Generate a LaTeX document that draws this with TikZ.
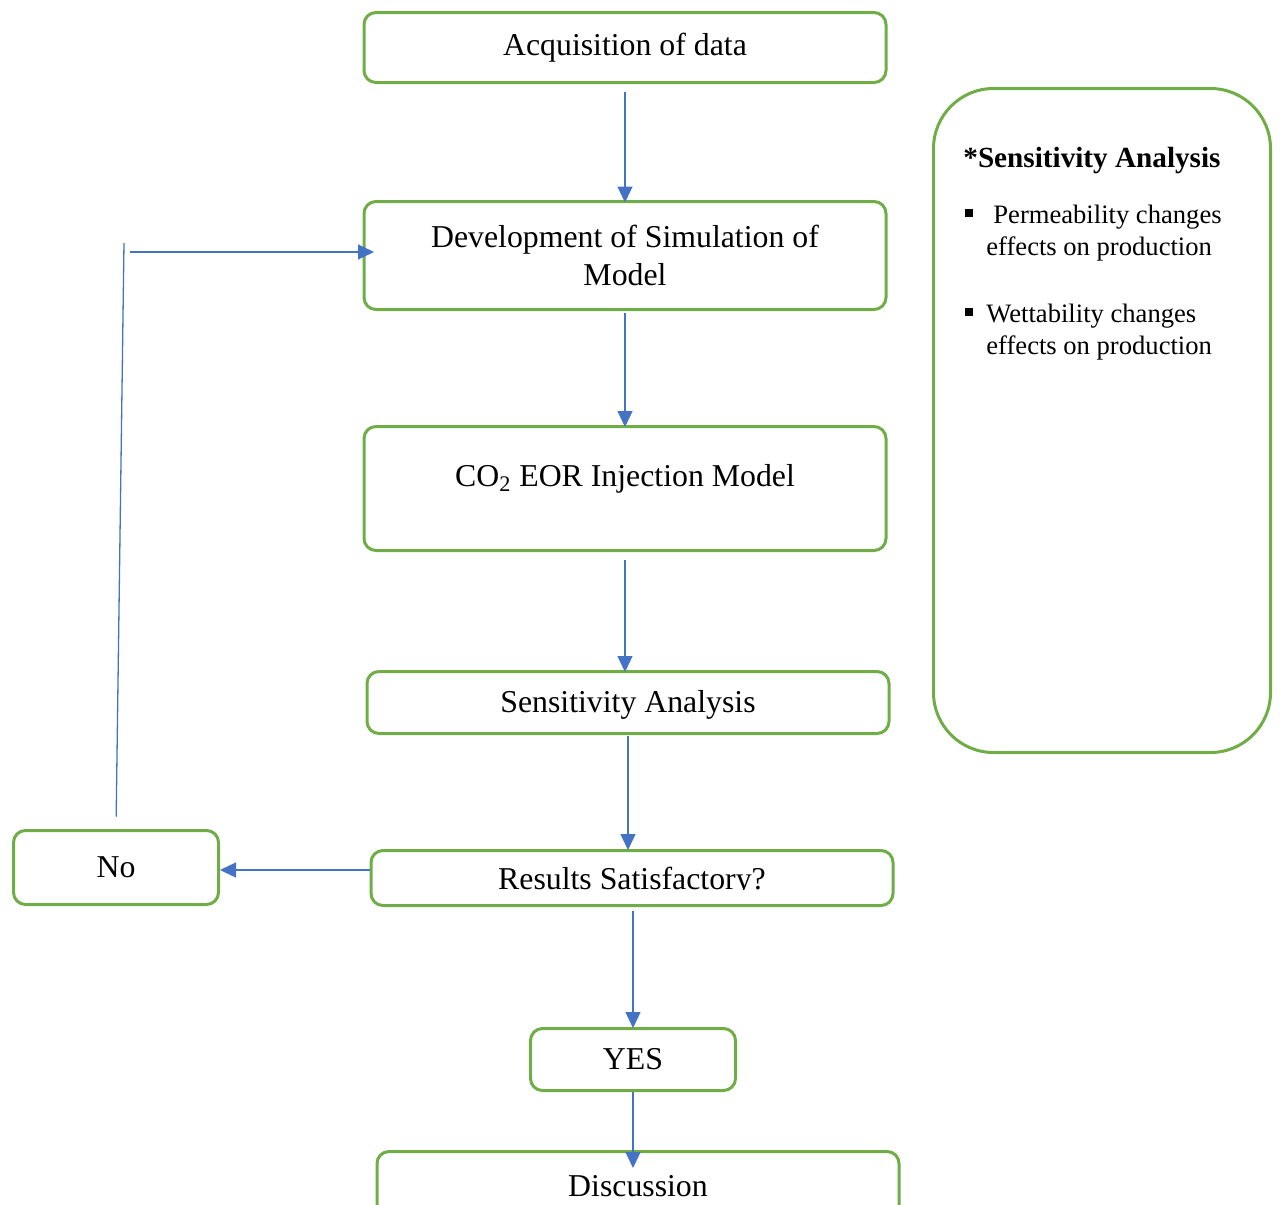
\documentclass[tikz,border=0pt]{standalone}
\usepackage{fontspec}
\setmainfont{Liberation Serif}
\usepackage{trimclip}
\definecolor{boxgreen}{HTML}{70AD47}
\definecolor{arrowblue}{HTML}{4472C4}
\usetikzlibrary{arrows.meta}
\tikzstyle{arrow} = [
  -{Triangle[length=8pt, width=7.5pt]}, line width=0.65pt, color=arrowblue
]
\tikzstyle{fbline} = [line width=0.65pt, color=arrowblue]

\begin{document}
\begin{tikzpicture}[
  x=0.5pt, y=-0.5pt,
  every node/.style={font=\fontsize{15.9}{19}\selectfont},
  box/.style={rectangle, rounded corners=6pt, draw=boxgreen, line width=1.5pt,
              minimum width=261pt, inner sep=0pt, align=center},
  smallbox/.style={box, minimum width=102.5pt},
  panel/.style={rectangle, rounded corners=30pt, draw=boxgreen, line width=1.5pt,
                minimum width=168.5pt, minimum height=332pt},
  heading/.style={anchor=base west, inner sep=0pt,
                  font=\fontsize{14.6}{17}\selectfont\bfseries},
  bullet/.style={anchor=base west, inner sep=0pt,
                 font=\fontsize{13.3}{16}\selectfont},
]
  \useasboundingbox (0,0) rectangle (1280,1205);

  % main column
  \node[box, minimum height=35pt]   (acq)  at (625,47.5)   {Acquisition of data};
  \node[box, minimum height=54pt]   (dev)  at (625,255.5)  {Development of Simulation of\\Model};
  \node[box, minimum height=62pt, text depth=13pt]
                                    (co2)  at (625,488.5)  {CO\textsubscript{2} EOR Injection Model};
  \node[box, minimum height=31pt, text depth=1pt]
                                    (sens) at (628,702.5)  {Sensitivity Analysis};
  \node[box, minimum height=27.5pt] (res)  at (632,878)
    {\clipbox{0pt {\depth} 0pt 0pt}{Results Satisfactory?}};
  \node[smallbox, minimum height=31pt] (yes) at (633,1059.5) {YES};
  \node[box, minimum height=35pt]   (disc) at (638,1186.5) {Discussion};
  \node[smallbox, minimum height=37pt] (no) at (116,867.5)  {No};

  % side notes
  \node[panel] (notes) at (1102,420.5) {};
  \node[heading] (ntitle) at (963,167) {*Sensitivity Analysis};
  \node[bullet] (perm) at (965,223)
    {\begin{tabular}[t]{@{}l@{\hspace{6.5pt}}l@{}}
       \rule[3.25pt]{4pt}{4pt} & \hspace{3.5pt}Permeability changes\\
                               & effects on production
     \end{tabular}};
  \node[bullet] (wett) at (965,322)
    {\begin{tabular}[t]{@{}l@{\hspace{6.5pt}}l@{}}
       \rule[3.25pt]{4pt}{4pt} & Wettability changes\\
                               & effects on production
     \end{tabular}};

  % connectors
  \coordinate (fbtop)   at (124,243);
  \coordinate (fbstart) at (130,252);
  \draw[arrow, shorten <=3.75pt, shorten >=-1.25pt] (acq) -- (dev);
  \draw[arrow, shorten <=1pt, shorten >=-1pt] (dev.south) -- (co2.north);
  \draw[arrow, shorten <=4pt, shorten >=-1pt] (co2.south) -- (co2.south |- sens.north);
  \draw[arrow, shorten <=0.5pt, shorten >=-0.5pt] (sens.south) -- (sens.south |- res.north);
  \draw[arrow] ([yshift=-1.25pt]res.west |- no.east) -- ([yshift=-1.25pt]no.east);
  \draw[arrow, shorten <=2pt, shorten >=-0.5pt] (yes.north |- res.south) -- (yes.north);
  \draw[arrow, shorten >=-9pt] (yes.south) -- (yes.south |- disc.north);
  \draw[fbline, shorten <=6.25pt] (no.north) -- (fbtop);
  \draw[arrow, shorten >=-5.75pt] (fbstart) -- (fbstart -| dev.west);
\end{tikzpicture}
\end{document}
